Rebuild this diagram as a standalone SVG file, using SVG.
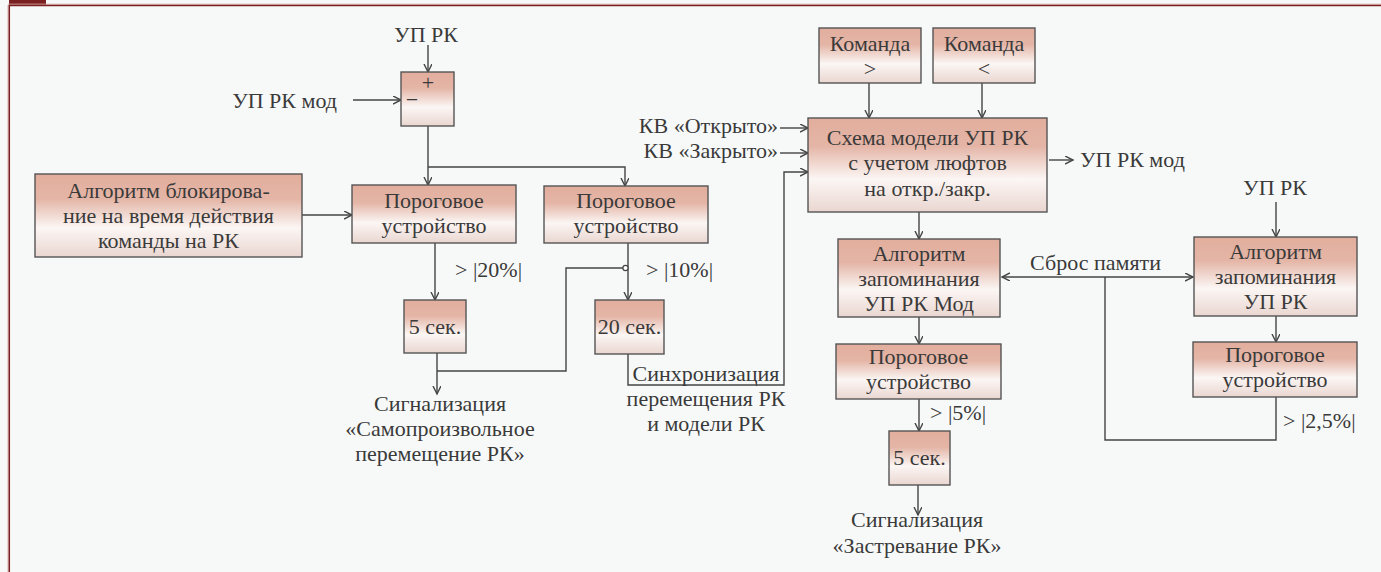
<svg xmlns="http://www.w3.org/2000/svg" width="1381" height="572" viewBox="0 0 1381 572">
<defs>
<linearGradient id="bg" x1="0" y1="0" x2="0" y2="1">
<stop offset="0" stop-color="#e2ae9d"/>
<stop offset="0.3" stop-color="#e4b5a6"/>
<stop offset="0.65" stop-color="#fbf6f4"/>
<stop offset="1" stop-color="#ead6d0"/>
</linearGradient>
<marker id="a" markerWidth="10" markerHeight="10" refX="8" refY="4" orient="auto-start-reverse" markerUnits="userSpaceOnUse">
<path d="M0,0 L8,4 L0,8" fill="none" stroke="#444" stroke-width="1.4"/>
</marker>
</defs>
<rect x="0" y="0" width="1381" height="572" fill="#f7f9f9"/>
<g id="frame">
<rect x="9" y="0" width="37" height="5" fill="#7b2020"/>
<line x1="8" y1="4.2" x2="1381" y2="4.2" stroke="#d9aaaa" stroke-width="1"/>
<line x1="9" y1="5.5" x2="1381" y2="5.5" stroke="#7b2020" stroke-width="1.5"/>
<line x1="8" y1="5" x2="8" y2="572" stroke="#d9aaaa" stroke-width="1"/>
<line x1="9.3" y1="5" x2="9.3" y2="572" stroke="#7b2020" stroke-width="1.5"/>
</g>

<g id="connectors" fill="none" stroke="#444" stroke-width="1.4">
<line marker-end="url(#a)" x1="428" y1="45" x2="428" y2="72"/>
<line marker-end="url(#a)" x1="353" y1="100" x2="401" y2="100"/>
<line marker-end="url(#a)" x1="428" y1="126" x2="428" y2="185"/>
<polyline marker-end="url(#a)" points="428,167 625,167 625,186"/>
<line marker-end="url(#a)" x1="302" y1="215" x2="352" y2="215"/>
<line marker-end="url(#a)" x1="435" y1="243" x2="435" y2="300"/>
<line marker-end="url(#a)" x1="628" y1="243" x2="628" y2="300"/>
<line marker-end="url(#a)" x1="437" y1="353" x2="437" y2="394"/>
<polyline points="437,371 566,371 566,268 623,268"/>
<circle cx="625.5" cy="268" r="2.6" fill="#fff" stroke-width="1.2"/>
<polyline marker-end="url(#a)" points="628,354 628,385 784,385 784,172 808,172"/>
<line marker-end="url(#a)" x1="780" y1="128" x2="808" y2="128"/>
<line marker-end="url(#a)" x1="780" y1="153" x2="808" y2="153"/>
<line marker-end="url(#a)" x1="869" y1="83" x2="869" y2="118"/>
<line marker-end="url(#a)" x1="982" y1="83" x2="982" y2="118"/>
<line marker-end="url(#a)" x1="1049" y1="160" x2="1073" y2="160"/>
<line marker-end="url(#a)" x1="919" y1="212" x2="919" y2="239"/>
<line marker-end="url(#a)" x1="919" y1="317" x2="919" y2="344"/>
<line marker-end="url(#a)" x1="919" y1="399" x2="919" y2="431"/>
<line marker-end="url(#a)" x1="918" y1="485" x2="918" y2="515"/>
<line marker-end="url(#a)" marker-start="url(#a)" x1="1002" y1="277" x2="1193" y2="277"/>
<polyline points="1276,397 1276,440 1105,440 1105,277"/>
<line marker-end="url(#a)" x1="1276" y1="202" x2="1276" y2="237"/>
<line marker-end="url(#a)" x1="1276" y1="316" x2="1276" y2="342"/>
</g>

<g id="sum">
<rect fill="url(#bg)" stroke="#555" stroke-width="1.4" x="401" y="72" width="53" height="54"/>
<text x="428" y="90" font-family="Liberation Serif" font-size="22" fill="#3a3a3a" text-anchor="middle">+</text>
<text x="412" y="107" font-family="Liberation Serif" font-size="22" fill="#3a3a3a" text-anchor="middle">−</text>
</g>
<g id="alg_block">
<rect fill="url(#bg)" stroke="#555" stroke-width="1.4" x="35" y="174" width="267" height="83"/>
<text x="168.5" y="198" font-family="Liberation Serif" font-size="22" fill="#3a3a3a" text-anchor="middle">Алгоритм блокирова-</text>
<text x="168.5" y="223" font-family="Liberation Serif" font-size="22" fill="#3a3a3a" text-anchor="middle">ние на время действия</text>
<text x="168.5" y="248" font-family="Liberation Serif" font-size="22" fill="#3a3a3a" text-anchor="middle">команды на РК</text>
</g>
<g id="thr1">
<rect fill="url(#bg)" stroke="#555" stroke-width="1.4" x="352" y="185" width="164" height="58"/>
<text x="434" y="208" font-family="Liberation Serif" font-size="22" fill="#3a3a3a" text-anchor="middle">Пороговое</text>
<text x="434" y="233" font-family="Liberation Serif" font-size="22" fill="#3a3a3a" text-anchor="middle">устройство</text>
</g>
<g id="thr2">
<rect fill="url(#bg)" stroke="#555" stroke-width="1.4" x="544" y="186" width="164" height="57"/>
<text x="626" y="208" font-family="Liberation Serif" font-size="22" fill="#3a3a3a" text-anchor="middle">Пороговое</text>
<text x="626" y="233" font-family="Liberation Serif" font-size="22" fill="#3a3a3a" text-anchor="middle">устройство</text>
</g>
<g id="t5a">
<rect fill="url(#bg)" stroke="#555" stroke-width="1.4" x="404" y="300" width="62" height="53"/>
<text x="435" y="334" font-family="Liberation Serif" font-size="22" fill="#3a3a3a" text-anchor="middle">5 сек.</text>
</g>
<g id="t20">
<rect fill="url(#bg)" stroke="#555" stroke-width="1.4" x="595" y="300" width="69" height="54"/>
<text x="629.5" y="334" font-family="Liberation Serif" font-size="22" fill="#3a3a3a" text-anchor="middle">20 сек.</text>
</g>
<g id="cmd1">
<rect fill="url(#bg)" stroke="#555" stroke-width="1.4" x="819" y="28" width="102" height="55"/>
<text x="870" y="51" font-family="Liberation Serif" font-size="22" fill="#3a3a3a" text-anchor="middle">Команда</text>
<text x="870" y="76" font-family="Liberation Serif" font-size="22" fill="#3a3a3a" text-anchor="middle">&gt;</text>
</g>
<g id="cmd2">
<rect fill="url(#bg)" stroke="#555" stroke-width="1.4" x="933" y="28" width="102" height="55"/>
<text x="984" y="51" font-family="Liberation Serif" font-size="22" fill="#3a3a3a" text-anchor="middle">Команда</text>
<text x="984" y="76" font-family="Liberation Serif" font-size="22" fill="#3a3a3a" text-anchor="middle">&lt;</text>
</g>
<g id="model">
<rect fill="url(#bg)" stroke="#555" stroke-width="1.4" x="808" y="118" width="239" height="94"/>
<text x="927.5" y="145" font-family="Liberation Serif" font-size="22" fill="#3a3a3a" text-anchor="middle">Схема модели УП РК</text>
<text x="927.5" y="170" font-family="Liberation Serif" font-size="22" fill="#3a3a3a" text-anchor="middle">с учетом люфтов</text>
<text x="927.5" y="196" font-family="Liberation Serif" font-size="22" fill="#3a3a3a" text-anchor="middle">на откр./закр.</text>
</g>
<g id="algmod">
<rect fill="url(#bg)" stroke="#555" stroke-width="1.4" x="838" y="239" width="162" height="78"/>
<text x="919" y="261" font-family="Liberation Serif" font-size="22" fill="#3a3a3a" text-anchor="middle">Алгоритм</text>
<text x="919" y="286" font-family="Liberation Serif" font-size="22" fill="#3a3a3a" text-anchor="middle">запоминания</text>
<text x="919" y="311" font-family="Liberation Serif" font-size="22" fill="#3a3a3a" text-anchor="middle">УП РК Мод</text>
</g>
<g id="thr3">
<rect fill="url(#bg)" stroke="#555" stroke-width="1.4" x="836" y="344" width="165" height="55"/>
<text x="918.5" y="364" font-family="Liberation Serif" font-size="22" fill="#3a3a3a" text-anchor="middle">Пороговое</text>
<text x="918.5" y="389" font-family="Liberation Serif" font-size="22" fill="#3a3a3a" text-anchor="middle">устройство</text>
</g>
<g id="t5b">
<rect fill="url(#bg)" stroke="#555" stroke-width="1.4" x="889" y="431" width="61" height="54"/>
<text x="919.5" y="465" font-family="Liberation Serif" font-size="22" fill="#3a3a3a" text-anchor="middle">5 сек.</text>
</g>
<g id="algrk">
<rect fill="url(#bg)" stroke="#555" stroke-width="1.4" x="1194" y="237" width="163" height="79"/>
<text x="1275.5" y="259" font-family="Liberation Serif" font-size="22" fill="#3a3a3a" text-anchor="middle">Алгоритм</text>
<text x="1275.5" y="284" font-family="Liberation Serif" font-size="22" fill="#3a3a3a" text-anchor="middle">запоминания</text>
<text x="1275.5" y="309" font-family="Liberation Serif" font-size="22" fill="#3a3a3a" text-anchor="middle">УП РК</text>
</g>
<g id="thr4">
<rect fill="url(#bg)" stroke="#555" stroke-width="1.4" x="1193" y="342" width="164" height="55"/>
<text x="1275" y="362" font-family="Liberation Serif" font-size="22" fill="#3a3a3a" text-anchor="middle">Пороговое</text>
<text x="1275" y="387" font-family="Liberation Serif" font-size="22" fill="#3a3a3a" text-anchor="middle">устройство</text>
</g>

<g id="labels" font-family="Liberation Serif" font-size="22" fill="#3a3a3a">
<text x="426" y="42" font-family="Liberation Serif" text-anchor="middle">УП РК</text>
<text x="337" y="108" font-family="Liberation Serif" text-anchor="end">УП РК мод</text>
<text x="455" y="277" font-family="Liberation Serif">&gt; |20%|</text>
<text x="646" y="277" font-family="Liberation Serif">&gt; |10%|</text>
<text x="440" y="411" font-family="Liberation Serif" text-anchor="middle">Сигнализация</text>
<text x="440" y="436" font-family="Liberation Serif" text-anchor="middle">«Самопроизвольное</text>
<text x="440" y="461" font-family="Liberation Serif" text-anchor="middle">перемещение РК»</text>
<text x="706" y="381" font-family="Liberation Serif" text-anchor="middle">Синхронизация</text>
<text x="706" y="406" font-family="Liberation Serif" text-anchor="middle">перемещения РК</text>
<text x="706" y="431" font-family="Liberation Serif" text-anchor="middle">и модели РК</text>
<text x="778" y="133" font-family="Liberation Serif" text-anchor="end">КВ «Открыто»</text>
<text x="778" y="158" font-family="Liberation Serif" text-anchor="end">КВ «Закрыто»</text>
<text x="1080" y="167" font-family="Liberation Serif">УП РК мод</text>
<text x="1030" y="270" font-family="Liberation Serif">Сброс памяти</text>
<text x="930" y="420" font-family="Liberation Serif">&gt; |5%|</text>
<text x="1283" y="428" font-family="Liberation Serif">&gt; |2,5%|</text>
<text x="917" y="527" font-family="Liberation Serif" text-anchor="middle">Сигнализация</text>
<text x="917" y="553" font-family="Liberation Serif" text-anchor="middle">«Застревание РК»</text>
<text x="1275" y="195" font-family="Liberation Serif" text-anchor="middle">УП РК</text>
</g>
</svg>
